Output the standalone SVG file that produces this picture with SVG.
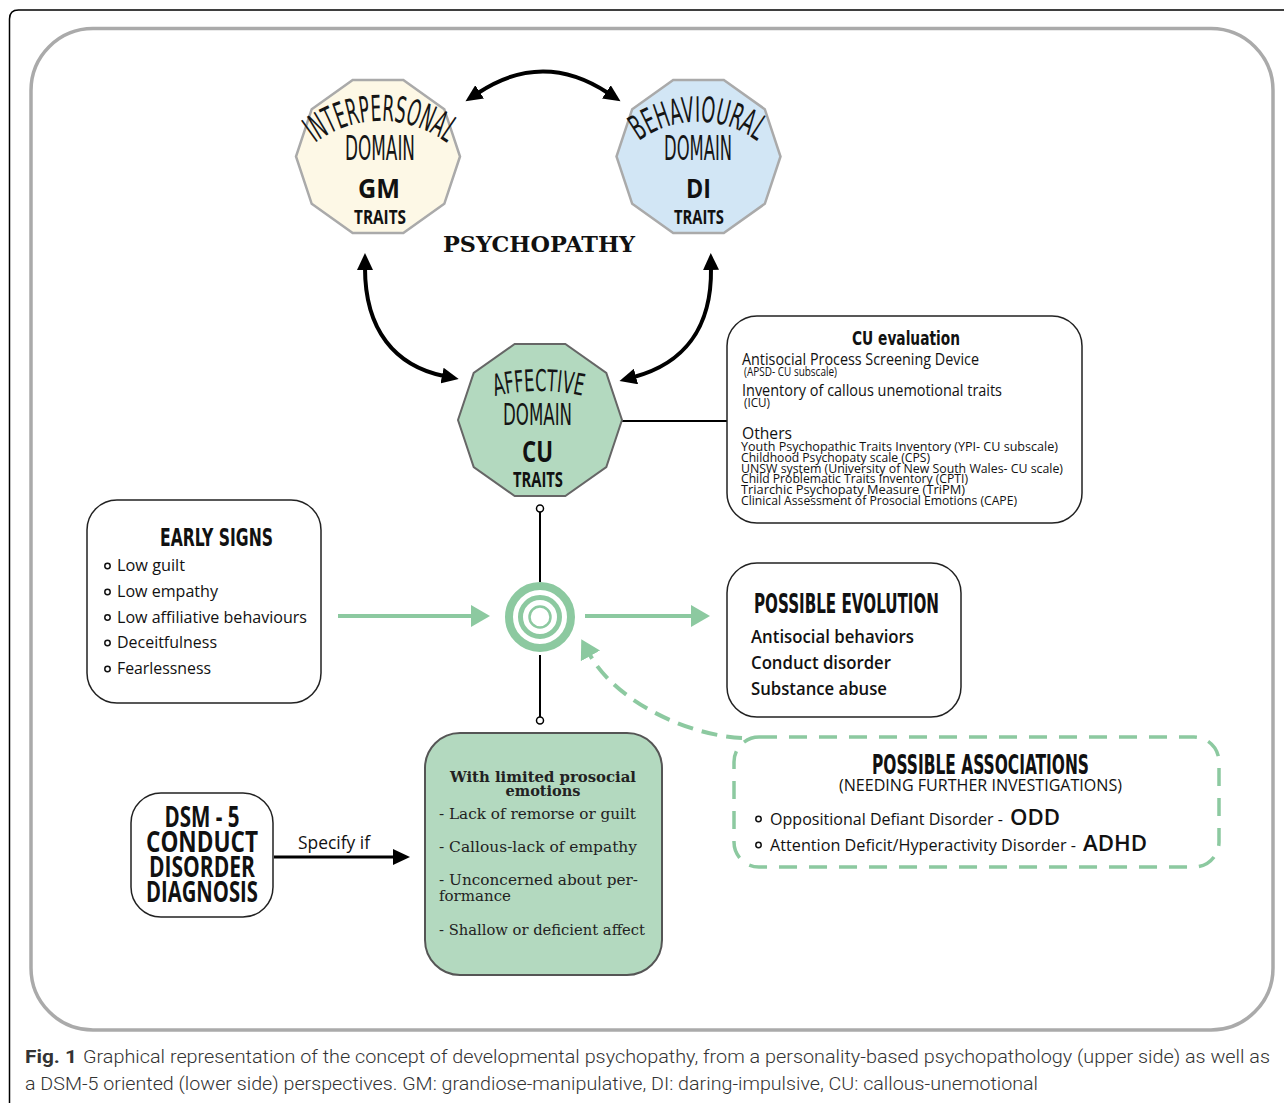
<svg xmlns="http://www.w3.org/2000/svg" width="1284" height="1103" viewBox="0 0 1284 1103">
<style>
.wa{font-family:"DejaVu Sans",sans-serif;font-stretch:condensed;fill:#151515}
.big{font-family:"Open Sans","Noto Sans",sans-serif;font-weight:bold;fill:#111}
.ttl{font-family:"DejaVu Sans",sans-serif;font-stretch:condensed;font-weight:bold;fill:#111}
.body{font-family:"Open Sans","Noto Sans",sans-serif;fill:#111}
.serif{font-family:"DejaVu Serif","Liberation Serif",serif;fill:#222}
.cap{font-family:"Roboto","Noto Sans",sans-serif;fill:#333;font-size:18px;font-weight:300}
.box{fill:#fff;stroke:#222;stroke-width:1.5}
.blk{fill:none;stroke:#000;stroke-width:4}
.grn{fill:none;stroke:#8cc9a0;stroke-width:4}
</style>
<defs>
<marker id="bh" markerUnits="userSpaceOnUse" markerWidth="18" markerHeight="16" refX="2" refY="8" orient="auto-start-reverse"><path d="M0,0 L17,8 L0,16 z" fill="#000"/></marker>
<marker id="gh" markerUnits="userSpaceOnUse" markerWidth="20" markerHeight="22" refX="1" refY="11" orient="auto-start-reverse"><path d="M0,0 L19,11 L0,22 z" fill="#8cc9a0"/></marker>
<path id="arcGM" d="M315,143 A110,110 0 0 1 447,143"/>
<path id="arcDI" d="M639,141 A100,100 0 0 1 757,141"/>
<path id="arcCU" d="M495,396 A196,196 0 0 1 583,396"/>
</defs>

<path d="M9.5,1103 V19 Q9.5,10 18.5,10 H1284" fill="none" stroke="#000" stroke-width="1.5"/>
<rect x="31" y="28.5" width="1242" height="1001.5" rx="62" fill="none" stroke="#aaa" stroke-width="3.5"/>

<g id="connectors">
<path class="blk" d="M478,93 Q543,50 608,93" marker-start="url(#bh)" marker-end="url(#bh)"/>
<path class="blk" d="M365,268 C365,330 395,366 444,376" marker-start="url(#bh)" marker-end="url(#bh)"/>
<path class="blk" d="M711,268 C712,330 682,364 634,377" marker-start="url(#bh)" marker-end="url(#bh)"/>
<line x1="622" y1="421" x2="727" y2="421" stroke="#000" stroke-width="2"/>
<line x1="540" y1="512" x2="540" y2="582" stroke="#000" stroke-width="2"/>
<circle cx="540" cy="508.5" r="3.5" fill="#fff" stroke="#000" stroke-width="1.5"/>
<line x1="540" y1="655" x2="540" y2="717" stroke="#000" stroke-width="2"/>
<circle cx="540" cy="720.5" r="3.5" fill="#fff" stroke="#000" stroke-width="1.5"/>
<line class="grn" x1="338" y1="616" x2="472" y2="616" marker-end="url(#gh)"/>
<line class="grn" x1="585" y1="616" x2="692" y2="616" marker-end="url(#gh)"/>
<path class="grn" d="M742,738 C685,735 615,700 590,655" stroke-dasharray="16 9" marker-end="url(#gh)"/>
<line x1="274" y1="857" x2="395" y2="857" stroke="#000" stroke-width="3" marker-end="url(#bh)"/>
<text class="body" x="298" y="849" font-size="18" textLength="72" lengthAdjust="spacingAndGlyphs">Specify if</text>
</g>

<g id="gm">
<polygon points="460,156.5 444.3,203.8 403.3,233.1 352.7,233.1 311.7,203.8 296,156.5 311.7,109.2 352.7,79.9 403.3,79.9 444.3,109.2" fill="#fdf8e6" stroke="#aaa" stroke-width="2.5"/>
<text class="wa" font-size="36"><textPath href="#arcGM" textLength="141" lengthAdjust="spacingAndGlyphs">INTERPERSONAL</textPath></text>
<text class="wa" x="345" y="160" font-size="34" textLength="70" lengthAdjust="spacingAndGlyphs">DOMAIN</text>
<text class="big" x="358" y="198" font-size="27" textLength="42" lengthAdjust="spacingAndGlyphs">GM</text>
<text class="big" x="354" y="224" font-size="19" textLength="52" lengthAdjust="spacingAndGlyphs">TRAITS</text>
</g>

<g id="di">
<polygon points="780.5,156.5 764.8,203.8 723.8,233.1 673.2,233.1 632.2,203.8 616.5,156.5 632.2,109.2 673.2,79.9 723.8,79.9 764.8,109.2" fill="#d2e6f5" stroke="#aaa" stroke-width="2.5"/>
<text class="wa" font-size="35"><textPath href="#arcDI" textLength="126" lengthAdjust="spacingAndGlyphs">BEHAVIOURAL</textPath></text>
<text class="wa" x="664" y="160" font-size="34" textLength="68" lengthAdjust="spacingAndGlyphs">DOMAIN</text>
<text class="big" x="686" y="198" font-size="27" textLength="25" lengthAdjust="spacingAndGlyphs">DI</text>
<text class="big" x="674" y="224" font-size="19" textLength="50" lengthAdjust="spacingAndGlyphs">TRAITS</text>
</g>

<text id="psychopathy" x="443" y="252" font-family="DejaVu Serif,Liberation Serif,serif" font-weight="bold" font-size="22" fill="#111" textLength="192" lengthAdjust="spacingAndGlyphs">PSYCHOPATHY</text>

<g id="cu">
<polygon points="622,420 606.3,467 565.3,496.1 514.7,496.1 473.7,467 458,420 473.7,373 514.7,343.9 565.3,343.9 606.3,373" fill="#b3d9bf" stroke="#666" stroke-width="2"/>
<text class="wa" font-size="30"><textPath href="#arcCU" textLength="88" lengthAdjust="spacingAndGlyphs">AFFECTIVE</textPath></text>
<text class="wa" x="503" y="425" font-size="31" textLength="69" lengthAdjust="spacingAndGlyphs">DOMAIN</text>
<text class="big" x="522" y="462" font-size="28" textLength="31" lengthAdjust="spacingAndGlyphs">CU</text>
<text class="big" x="513" y="487" font-size="21" textLength="50" lengthAdjust="spacingAndGlyphs">TRAITS</text>
</g>

<g id="cu-evaluation">
<rect class="box" x="727" y="316" width="355" height="207" rx="30"/>
<text class="ttl" x="852" y="344.5" font-size="19" textLength="108" lengthAdjust="spacingAndGlyphs">CU evaluation</text>
<text class="body" x="742" y="365" font-size="16" textLength="237" lengthAdjust="spacingAndGlyphs">Antisocial Process Screening Device</text>
<text class="body" x="744" y="375.5" font-size="12.5" textLength="93" lengthAdjust="spacingAndGlyphs">(APSD- CU subscale)</text>
<text class="body" x="742" y="396" font-size="16" textLength="260" lengthAdjust="spacingAndGlyphs">Inventory of callous unemotional traits</text>
<text class="body" x="744" y="406.5" font-size="12.5" textLength="26" lengthAdjust="spacingAndGlyphs">(ICU)</text>
<text class="body" x="742" y="439" font-size="16" textLength="50" lengthAdjust="spacingAndGlyphs">Others</text>
<text class="body" x="741" y="451" font-size="13" textLength="317" lengthAdjust="spacingAndGlyphs">Youth Psychopathic Traits Inventory (YPI- CU subscale)</text>
<text class="body" x="741" y="461.8" font-size="13" textLength="189" lengthAdjust="spacingAndGlyphs">Childhood Psychopaty scale (CPS)</text>
<text class="body" x="741" y="472.6" font-size="13" textLength="322" lengthAdjust="spacingAndGlyphs">UNSW system (University of New South Wales- CU scale)</text>
<text class="body" x="741" y="483.4" font-size="13" textLength="227" lengthAdjust="spacingAndGlyphs">Child Problematic Traits Inventory (CPTI)</text>
<text class="body" x="741" y="494.2" font-size="13" textLength="224" lengthAdjust="spacingAndGlyphs">Triarchic Psychopaty Measure  (TriPM)</text>
<text class="body" x="741" y="505" font-size="13" textLength="276" lengthAdjust="spacingAndGlyphs">Clinical Assessment of Prosocial Emotions (CAPE)</text>
</g>

<g id="early-signs">
<rect class="box" x="87" y="500" width="234" height="203" rx="30"/>
<text class="ttl" x="160" y="546" font-size="25" textLength="113" lengthAdjust="spacingAndGlyphs">EARLY SIGNS</text>
<g fill="#fff" stroke="#111" stroke-width="1.5">
<circle cx="107.5" cy="566" r="2.7"/><circle cx="107.5" cy="592" r="2.7"/><circle cx="107.5" cy="617.5" r="2.7"/><circle cx="107.5" cy="643" r="2.7"/><circle cx="107.5" cy="669" r="2.7"/>
</g>
<text class="body" x="117" y="571" font-size="16.5" textLength="68" lengthAdjust="spacingAndGlyphs">Low guilt</text>
<text class="body" x="117" y="597" font-size="16.5" textLength="101" lengthAdjust="spacingAndGlyphs">Low empathy</text>
<text class="body" x="117" y="622.5" font-size="16.5" textLength="190" lengthAdjust="spacingAndGlyphs">Low affiliative behaviours</text>
<text class="body" x="117" y="648" font-size="16.5" textLength="100" lengthAdjust="spacingAndGlyphs">Deceitfulness</text>
<text class="body" x="117" y="674" font-size="16.5" textLength="94" lengthAdjust="spacingAndGlyphs">Fearlessness</text>
</g>

<g id="target" fill="none" stroke="#8cc9a0">
<circle cx="540" cy="617" r="31" stroke-width="8"/>
<circle cx="540" cy="617" r="19.5" stroke-width="5"/>
<circle cx="540" cy="617" r="10.5" stroke-width="2.5"/>
</g>

<g id="possible-evolution">
<rect class="box" x="727" y="563" width="234" height="154" rx="30"/>
<text class="ttl" x="754" y="613" font-size="27" textLength="185" lengthAdjust="spacingAndGlyphs">POSSIBLE EVOLUTION</text>
<text class="body" x="751" y="643" font-size="17.5" font-weight="600" textLength="163" lengthAdjust="spacingAndGlyphs">Antisocial behaviors</text>
<text class="body" x="751" y="669" font-size="17.5" font-weight="600" textLength="140" lengthAdjust="spacingAndGlyphs">Conduct disorder</text>
<text class="body" x="751" y="695" font-size="17.5" font-weight="600" textLength="136" lengthAdjust="spacingAndGlyphs">Substance abuse</text>
</g>

<g id="possible-associations">
<rect x="734" y="737" width="485" height="130" rx="25" fill="none" stroke="#8cc9a0" stroke-width="3.5" stroke-dasharray="18 12"/>
<text class="ttl" x="872" y="774" font-size="27" textLength="217" lengthAdjust="spacingAndGlyphs">POSSIBLE ASSOCIATIONS</text>
<text class="body" x="839" y="791" font-size="16" textLength="283" lengthAdjust="spacingAndGlyphs">(NEEDING FURTHER INVESTIGATIONS)</text>
<g fill="#fff" stroke="#111" stroke-width="1.5"><circle cx="758.5" cy="819" r="2.7"/><circle cx="758.5" cy="845" r="2.7"/></g>
<text class="body" x="770" y="825" font-size="16.5" textLength="233" lengthAdjust="spacingAndGlyphs">Oppositional Defiant Disorder -</text>
<text class="body" x="1010" y="825" font-size="22" font-weight="600" textLength="50" lengthAdjust="spacingAndGlyphs">ODD</text>
<text class="body" x="770" y="851" font-size="16.5" textLength="306" lengthAdjust="spacingAndGlyphs">Attention Deficit/Hyperactivity Disorder -</text>
<text class="body" x="1083" y="851" font-size="22" font-weight="600" textLength="64" lengthAdjust="spacingAndGlyphs">ADHD</text>
</g>

<g id="dsm5">
<rect class="box" x="131" y="793" width="142" height="124" rx="30" stroke-width="2"/>
<text class="big" text-anchor="middle" x="202" y="827" font-size="28" font-weight="600" textLength="75" lengthAdjust="spacingAndGlyphs">DSM - 5</text>
<text class="big" text-anchor="middle" x="202" y="852" font-size="28" font-weight="600" textLength="112" lengthAdjust="spacingAndGlyphs">CONDUCT</text>
<text class="big" text-anchor="middle" x="202" y="877" font-size="28" font-weight="600" textLength="106" lengthAdjust="spacingAndGlyphs">DISORDER</text>
<text class="big" text-anchor="middle" x="202" y="902" font-size="28" font-weight="600" textLength="112" lengthAdjust="spacingAndGlyphs">DIAGNOSIS</text>
</g>

<g id="limited-prosocial">
<rect x="425" y="733" width="237" height="242" rx="35" fill="#b3d9bf" stroke="#555" stroke-width="2"/>
<text class="serif" font-weight="bold" text-anchor="middle" x="543" y="782" font-size="15.5" textLength="186" lengthAdjust="spacingAndGlyphs">With limited prosocial</text>
<text class="serif" font-weight="bold" text-anchor="middle" x="543" y="796" font-size="15.5" textLength="75" lengthAdjust="spacingAndGlyphs">emotions</text>
<text class="serif" x="439" y="819" font-size="15.5" textLength="197" lengthAdjust="spacingAndGlyphs">- Lack of remorse or guilt</text>
<text class="serif" x="439" y="852" font-size="15.5" textLength="198" lengthAdjust="spacingAndGlyphs">- Callous-lack of empathy</text>
<text class="serif" x="439" y="885" font-size="15.5" textLength="199" lengthAdjust="spacingAndGlyphs">- Unconcerned about per-</text>
<text class="serif" x="439" y="901" font-size="15.5" textLength="72" lengthAdjust="spacingAndGlyphs">formance</text>
<text class="serif" x="439" y="935" font-size="15.5" textLength="206" lengthAdjust="spacingAndGlyphs">- Shallow or deficient affect</text>
</g>

<g id="caption">
<text class="cap" x="25" y="1063" font-weight="bold" fill="#222" style="font-weight:bold" textLength="52" lengthAdjust="spacingAndGlyphs">Fig. 1</text>
<text class="cap" x="83" y="1063" textLength="1187" lengthAdjust="spacingAndGlyphs">Graphical representation of the concept of developmental psychopathy, from a personality-based psychopathology (upper side) as well as</text>
<text class="cap" x="25" y="1090" textLength="1013" lengthAdjust="spacingAndGlyphs">a DSM-5 oriented (lower side) perspectives. GM: grandiose-manipulative, DI: daring-impulsive, CU: callous-unemotional</text>
</g>
</svg>
